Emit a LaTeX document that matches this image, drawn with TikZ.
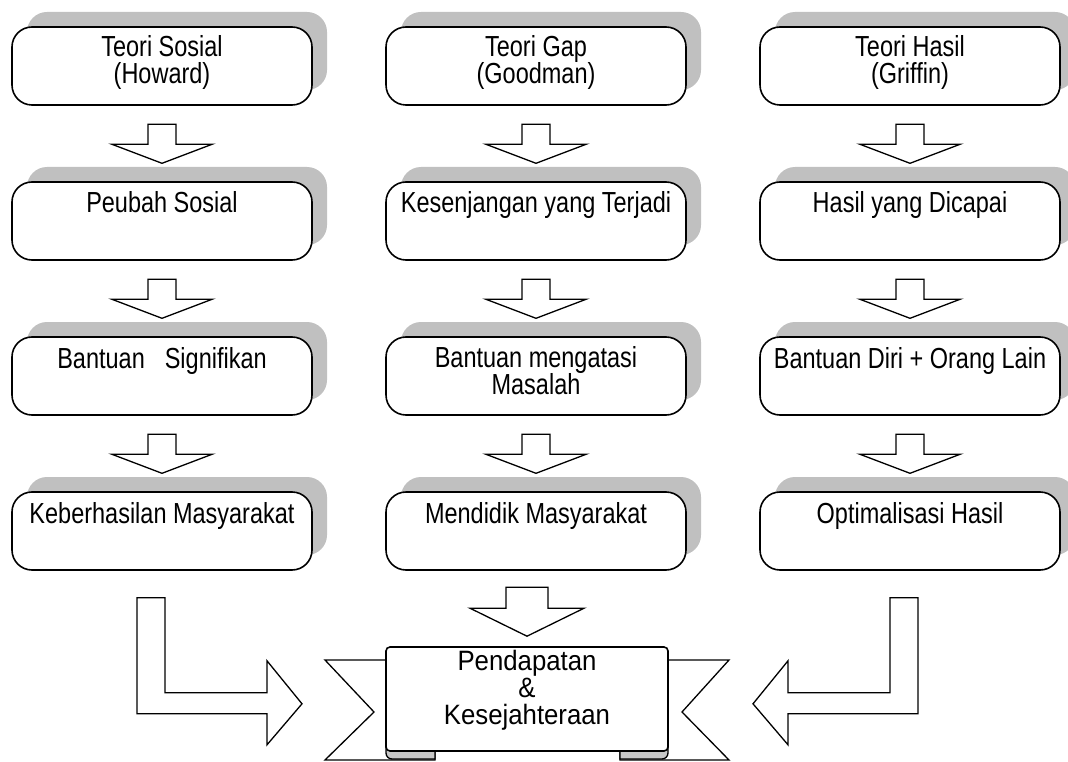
\documentclass[tikz,border=0pt]{standalone}
\usepackage{fontspec}
\setmainfont{Liberation Sans}[FakeStretch=0.81]
\newfontfamily\ribbonfont{Liberation Sans}[FakeStretch=0.92]
\usetikzlibrary{calc,shadows}
\definecolor{shadowgray}{RGB}{192,192,192}
\definecolor{foldgray}{RGB}{200,200,200}
\pgfdeclarelayer{paper}
\pgfdeclarelayer{background}
\pgfsetlayers{paper,background,main}
% centred lines with a fixed baseline distance; the box baseline is the first line
\newcommand{\stacked}[2]{\vtop{\baselineskip=#1\lineskiplimit=-50pt\lineskip=0pt\halign{\hfil##\hfil\cr#2\crcr}}}

\begin{document}
\begin{tikzpicture}[x=1pt, y=-1pt,
  stage/.style={draw=black, line width=1.6pt, fill=white, rounded corners=20pt,
    minimum width=300pt, inner sep=0pt, text height=31pt, text depth=47pt,
    font=\fontsize{29}{27}\selectfont,
    drop shadow={fill=shadowgray, opacity=1, shadow xshift=15pt, shadow yshift=15pt}},
  toprow/.style={text height=30pt, text depth=48pt},
  panel/.style={draw=black, line width=1.6pt, fill=white, rounded corners=4pt,
    minimum width=282pt, inner sep=0pt, text height=23pt, text depth=81pt,
    font=\ribbonfont\fontsize{28}{27}\selectfont},
  blockline/.style={draw=black, line width=1.3pt, fill=white, line join=miter},
  downblock/.pic={\path[blockline] (-14,0) -- (14,0) -- (14,20) -- (50,20) -- (0,39)
    -- (-50,20) -- (-14,20) -- cycle;},
  widedown/.pic={\path[blockline] (-21,0) -- (21,0) -- (21,21) -- (57,21) -- (0,49)
    -- (-57,21) -- (-21,21) -- cycle;}
]
\useasboundingbox (0,0) rectangle (1068,762);
\begin{pgfonlayer}{paper}
  \fill[white] (0,0) rectangle (1068,762);
\end{pgfonlayer}
\clip (0,0) rectangle (1068,762);

% three columns of stages
\node[stage, toprow] (a1) at (162,66) {\stacked{27pt}{Teori Sosial\cr(Howard)}};
\node[stage, toprow] (a2) at (536,66) {\stacked{27pt}{Teori Gap\cr(Goodman)}};
\node[stage, toprow] (a3) at (910,66) {\stacked{27pt}{Teori Hasil\cr(Griffin)}};

\node[stage] (b1) at (162,221) {Peubah Sosial};
\node[stage] (b2) at (536,221) {Kesenjangan yang Terjadi};
\node[stage] (b3) at (910,221) {Hasil yang Dicapai};

\node[stage] (c1) at (162,376) {Bantuan\hspace{20pt}Signifikan};
\node[stage, text height=30pt, text depth=48pt] (c2) at (536,376)
  {\stacked{27.5pt}{Bantuan mengatasi\cr Masalah}};
\node[stage] (c3) at (910,376) {Bantuan Diri + Orang Lain};

\node[stage] (d1) at (162,531) {Keberhasilan Masyarakat};
\node[stage] (d2) at (536,531) {Mendidik Masyarakat};
\node[stage] (d3) at (910,531) {Optimalisasi Hasil};

% block arrows down each column
\foreach \r in {a,b,c} {
  \foreach \c in {1,2,3} {
    \pic at ($(\r\c.south)+(0,18.5)$) {downblock};
  }
}

% the ribbon with the goal
\node[panel] (goal) at (527,699) {\stacked{27pt}{Pendapatan\cr\&\cr Kesejahteraan}};

\begin{pgfonlayer}{background}
\begin{scope}[shift={(goal.center)}, line width=1.3pt, line join=miter]
  % tails
  \filldraw[fill=white] (-127,-39) -- (-202,-39) -- (-153,13) -- (-202,61)
    -- (-92,61) -- (-92,0) -- cycle;
  \filldraw[fill=white] (127,-39) -- (202,-39) -- (155,13) -- (202,61)
    -- (93,61) -- (93,0) -- cycle;
  % folds under the panel ends
  \filldraw[fill=foldgray] (-92,40) -- (-92,60) [rounded corners=6pt] -- (-141,60)
    -- (-141,40) [sharp corners] -- cycle;
  \filldraw[fill=foldgray] (93,40) -- (93,60) [rounded corners=6pt] -- (141,60)
    -- (141,40) [sharp corners] -- cycle;
\end{scope}
\end{pgfonlayer}

% arrows into the ribbon
\pic at ($(goal.north)+(0,-59)$) {widedown};
\path[blockline] ($(d1.south)+(-25,27)$) -- ++(28,0) -- ++(0,95) -- ++(102,0)
  -- ++(0,-32) -- ++(35,43) -- ++(-35,41) -- ++(0,-31) -- ++(-130,0) -- cycle;
\path[blockline] ($(d3.south)+(8,27)$) -- ++(-28,0) -- ++(0,95) -- ++(-102,0)
  -- ++(0,-32) -- ++(-35,43) -- ++(35,41) -- ++(0,-31) -- ++(130,0) -- cycle;
\end{tikzpicture}
\end{document}
